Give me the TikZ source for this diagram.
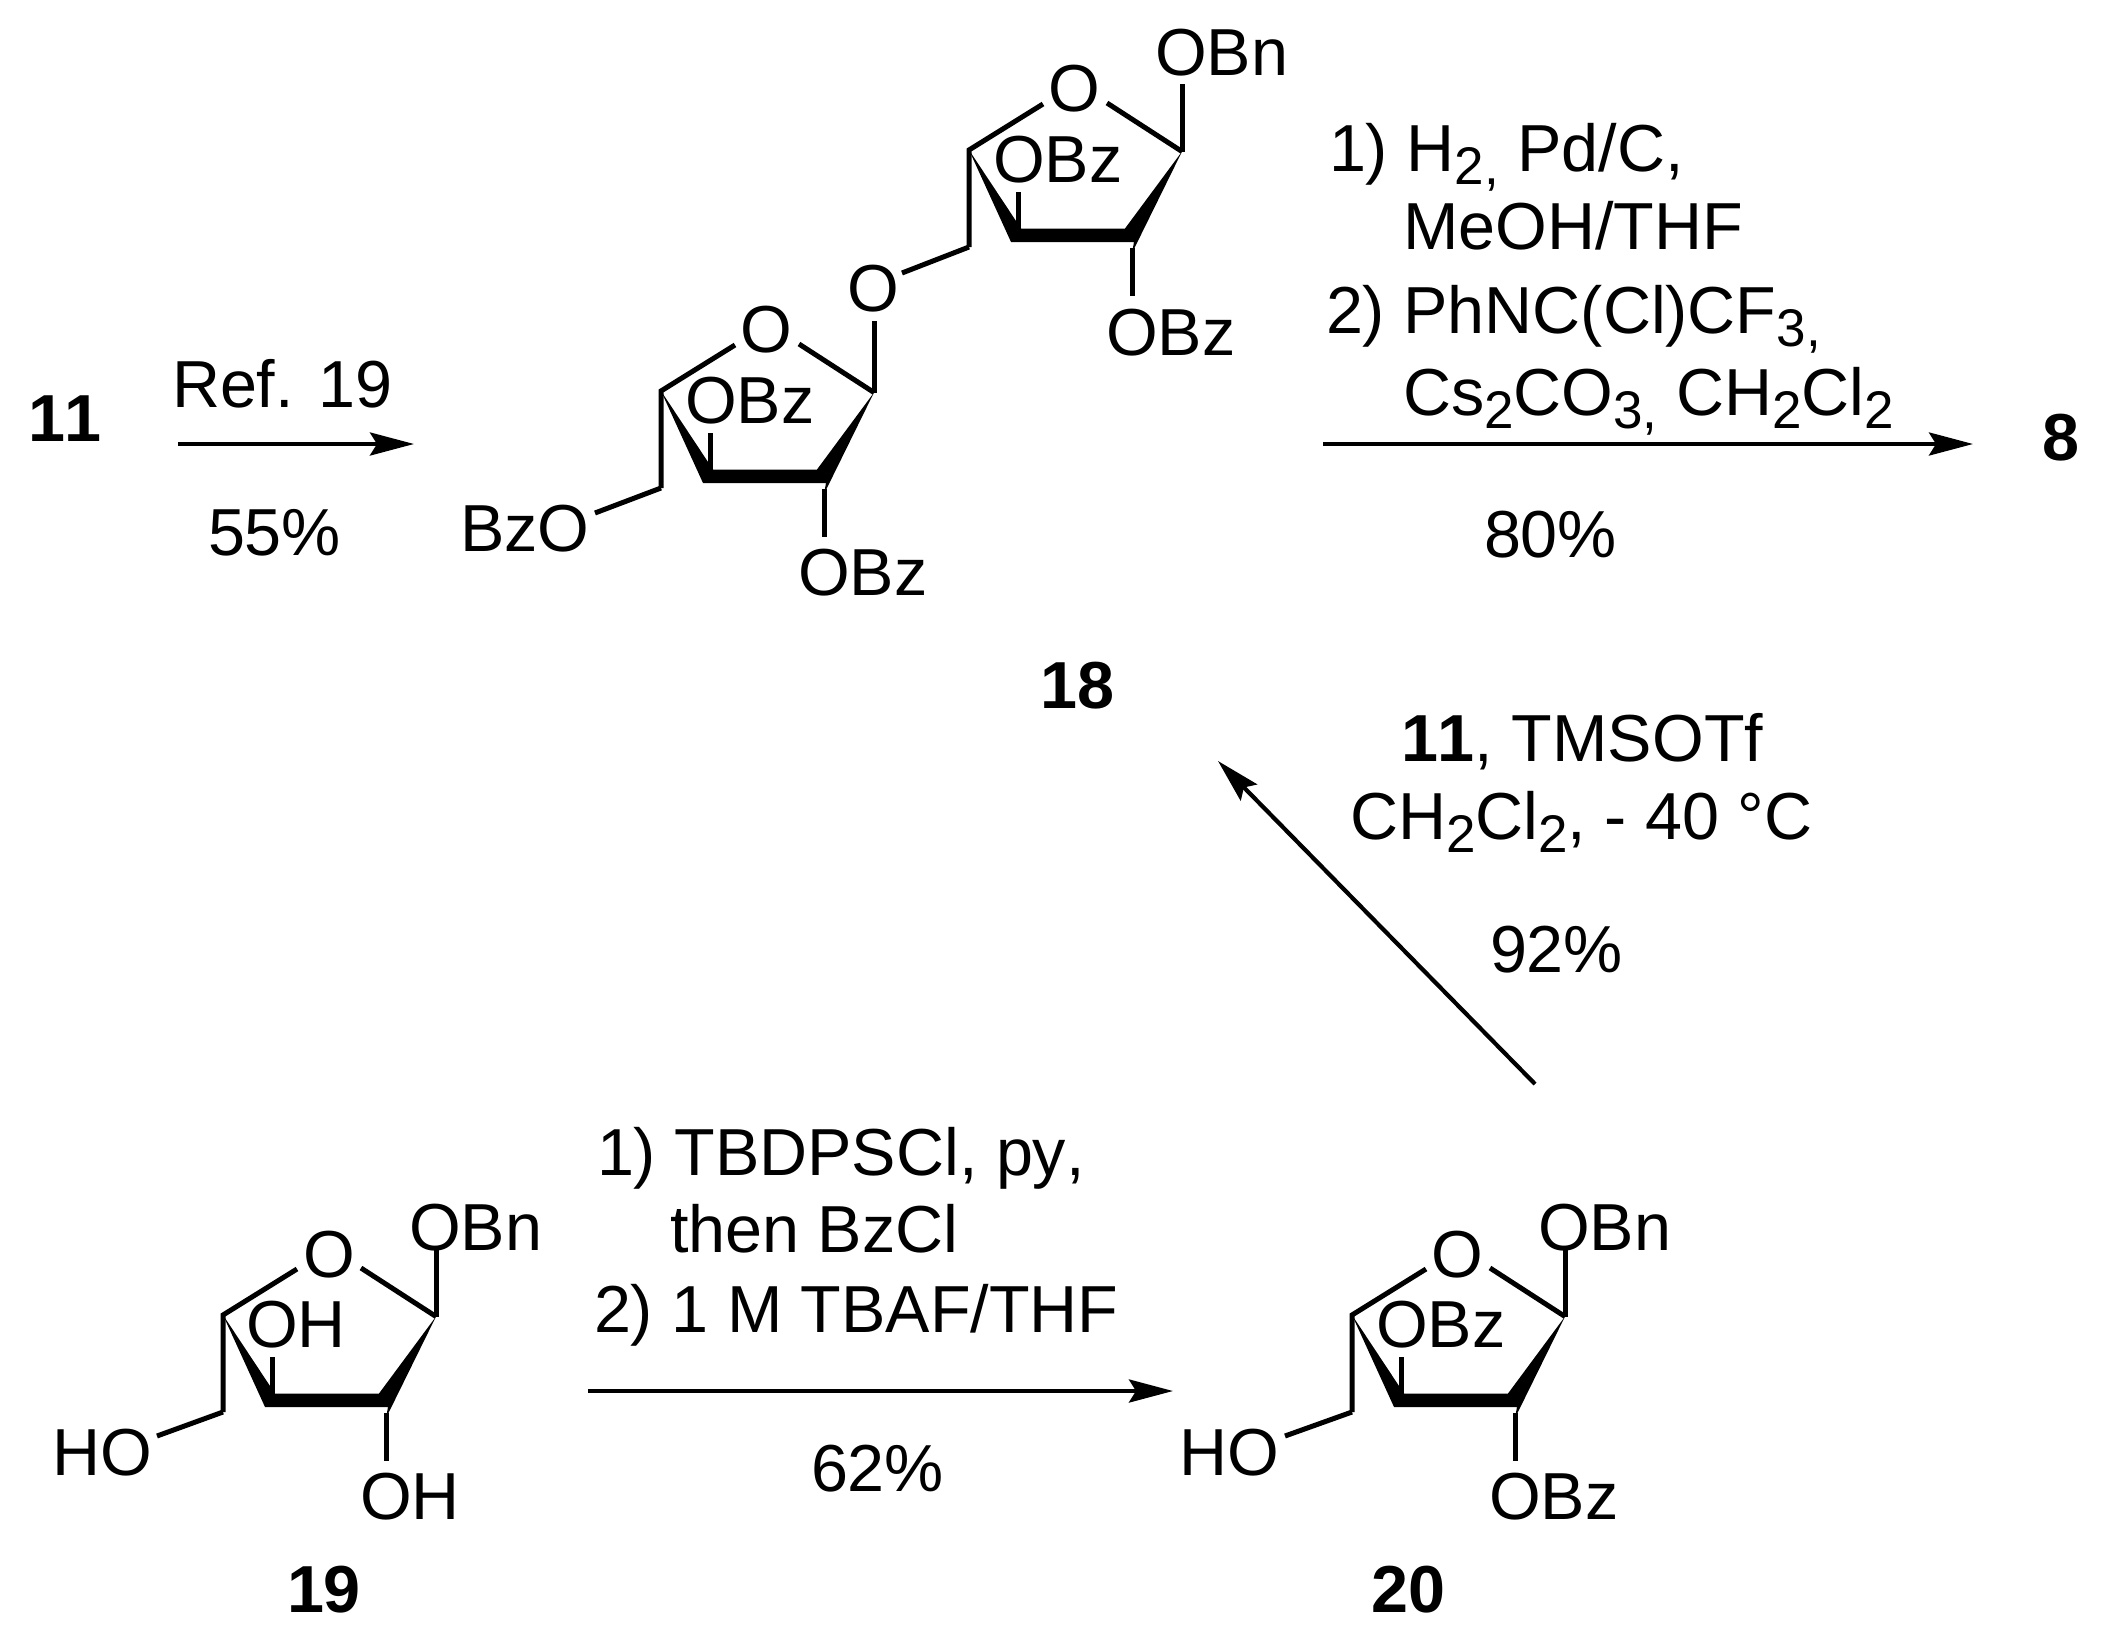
\documentclass[tikz,border=0pt]{standalone}
\usepackage{fontspec}
\setmainfont[Kerning=Off]{Liberation Sans}
\usetikzlibrary{arrows.meta}
\newcommand\chemsub[1]{\raisebox{-0.2em}{\fontsize{53}{53}\selectfont #1}}
\tikzset{
 x=1pt,y=-1pt,
 lab/.style={inner sep=0pt,outer sep=0pt,anchor=base west,font=\fontsize{66.5}{66.5}\selectfont},
 cmp/.style={inner sep=0pt,outer sep=0pt,anchor=base,font=\fontsize{66.5}{66.5}\selectfont\bfseries},
 bond/.style={line width=5pt},
 rxn/.style={line width=4.2pt,-{Stealth[length=44pt,width=23pt,inset=7pt]}},
 wedge/.style={fill=black,draw=none},
}
% ring: #1 prefix, #2 x, #3 y of C4
\newcommand\furanose[3]{%
 \begin{scope}[shift={(#2,#3)}]
  \coordinate (#1C4) at (0,2);
  \coordinate (#1C1) at (213,3.5);
  \coordinate (#1C1t) at (213,-64);
  \coordinate (#1C5) at (0,99);
  \coordinate (#1Oa) at (74,-44);
  \coordinate (#1Ob) at (138,-45);
  \coordinate (#1C3t) at (49,44);
  \coordinate (#1C3) at (49,85);
  \coordinate (#1C2) at (163,100);
  \coordinate (#1C2t) at (163,148);
  \draw[bond,line join=miter] (#1Oa) -- (#1C4) -- (#1C5);
  \draw[bond] (#1Ob) -- (#1C1);
  \draw[bond] (#1C3t) -- (#1C3);
  \draw[bond] (#1C2) -- (#1C2t);
  \fill[wedge] (#1C4) -- (52,80.5) -- (156,80.5) -- (#1C1) -- (163,105) -- (165,94) -- (42,94) -- cycle;
 \end{scope}}
\begin{document}
\begin{tikzpicture}
\useasboundingbox (0,0) rectangle (2107,1649);
\fill[white] (0,0) rectangle (2107,1649);
% ---------- 18
\furanose{a}{969}{148}
\furanose{b}{661}{389}
\node[lab] (aO) at (1048,111) {O};
\node[lab] (aOBn) at (1155,75) {OBn};
\node[lab] (aOBz) at (993,182) {OBz};
\node[lab] (aOBzb) at (1106,355) {OBz};
\node[lab] (brO) at (847,311) {O};
\node[lab] (bO) at (740,352) {O};
\node[lab] (bOBz) at (685,423) {OBz};
\node[lab] (bOBzb) at (798,595) {OBz};
\node[lab] (BzO) at (460,551) {BzO};
\coordinate (brOa) at (902,273);
\coordinate (brOb) at (874,321);
\draw[bond] (aC1) -- (aC1t);
\draw[bond] (aC5) -- (brOa);
\draw[bond] (brOb) -- (bC1);
\coordinate (BzOe) at (595,513);
\draw[bond] (bC5) -- (BzOe);
% ---------- 19
\furanose{c}{223}{1313}
\node[lab] (cO) at (303,1277) {O};
\node[lab] (cOBn) at (409,1250) {OBn};
\node[lab] (cOH) at (246,1347) {OH};
\node[lab] (cOHb) at (360,1519) {OH};
\node[lab] (cHO) at (52,1475) {HO};
\coordinate (cHOe) at (157,1436);
\draw[bond] (cC1) -- (cC1t);
\draw[bond] (cC5) -- (cHOe);
% ---------- 20
\furanose{d}{1352}{1313}
\node[lab] (dO) at (1431,1277) {O};
\node[lab] (dOBn) at (1538,1250) {OBn};
\node[lab] (dOBz) at (1376,1347) {OBz};
\node[lab] (dOBzb) at (1489,1519) {OBz};
\node[lab] (dHO) at (1179,1475) {HO};
\coordinate (dHOe) at (1285,1436);
\draw[bond] (dC1) -- (dC1t);
\draw[bond] (dC5) -- (dHOe);
% ---------- compound numbers
\node[cmp] (n11) at (65,441) {11};
\node[cmp] (n8) at (2061,460) {8};
\node[cmp] (n18) at (1077,708) {18};
\node[cmp] (n19) at (324,1612) {19};
\node[cmp] (n20) at (1408,1612) {20};
% ---------- reaction text
\node[lab] (r1) at (172,407) {Ref. 19};
\node[lab] (r2) at (208,555) {55\%};
\node[lab] (s1) at (1329,171) {1) H\chemsub{2,} Pd/C,};
\node[lab] (s2) at (1403,249) {MeOH/THF};
\node[lab] (s3) at (1326,333) {2) PhNC(Cl)CF\chemsub{3,}};
\node[lab] (s4) at (1403,415) {Cs\chemsub{2}CO\chemsub{3,} CH\chemsub{2}Cl\chemsub{2}};
\node[lab] (s5) at (1484,557) {80\%};
\node[lab] (t1) at (1401,761) {\textbf{11}, TMSOTf};
\node[lab] (t2) at (1350,839) {CH\chemsub{2}Cl\chemsub{2}, - 40 °C};
\node[lab] (t3) at (1490,972) {92\%};
\node[lab] (u1) at (597,1175) {1) TBDPSCl, py,};
\node[lab] (u2) at (670,1252) {then BzCl};
\node[lab] (u3) at (594,1332) {2) 1 M TBAF/THF};
\node[lab] (u4) at (811,1491) {62\%};
% ---------- arrows
\coordinate (A1s) at (178,444); \coordinate (A1e) at (414,444);
\coordinate (A2s) at (1323,444); \coordinate (A2e) at (1973,444);
\coordinate (A3s) at (1535,1084); \coordinate (A3e) at (1218,761);
\coordinate (A4s) at (588,1391); \coordinate (A4e) at (1173,1391);
\draw[rxn] (A1s) -- (A1e);
\draw[rxn] (A2s) -- (A2e);
\draw[rxn] (A3s) -- (A3e);
\draw[rxn] (A4s) -- (A4e);
\end{tikzpicture}
\end{document}
